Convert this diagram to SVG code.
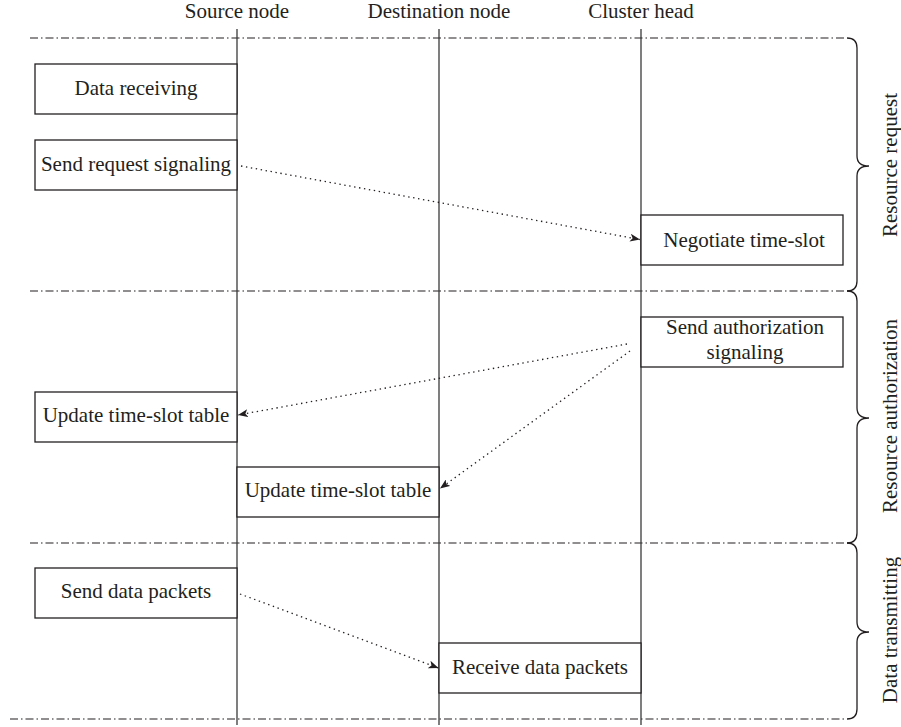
<svg xmlns="http://www.w3.org/2000/svg" width="901" height="727" viewBox="0 0 901 727">
  <style>
    text { font-family: "Liberation Serif", "Times New Roman", serif; font-size: 21px; fill: #231f20; }
    .mid { text-anchor: middle; }
    .lifeline { stroke: #3a3a3a; stroke-width: 1.3; fill: none; }
    .phase { stroke: #231f20; stroke-width: 1.1; fill: none; stroke-dasharray: 8 3 1.5 3; }
    .brace { stroke: #231f20; stroke-width: 1.3; fill: none; }
    .box rect { fill: #ffffff; stroke: #231f20; stroke-width: 1.3; }
    .msg { stroke: #231f20; stroke-width: 1.3; fill: none; stroke-dasharray: 1.4 3.6; marker-end: url(#head); }
  </style>
  <defs>
    <marker id="head" viewBox="0 0 10 8" refX="10" refY="4" markerWidth="10" markerHeight="8" markerUnits="userSpaceOnUse" orient="auto">
      <path d="M0,0 L10,4 L0,8 L2.5,4 Z" fill="#231f20"/>
    </marker>
  </defs>

  <rect width="901" height="727" fill="#ffffff"/>

  <!-- column headers -->
  <g id="headers">
    <text class="mid" x="237" y="18">Source node</text>
    <text class="mid" x="439" y="18">Destination node</text>
    <text class="mid" x="641" y="18">Cluster head</text>
  </g>

  <!-- phase separators -->
  <g id="phases">
    <line class="phase" x1="30" y1="38" x2="847" y2="38"/>
    <line class="phase" x1="30" y1="291" x2="847" y2="291"/>
    <line class="phase" x1="30" y1="543" x2="847" y2="543"/>
    <line class="phase" x1="10" y1="719" x2="847" y2="719"/>
  </g>

  <!-- lifelines -->
  <g id="lifelines">
    <line class="lifeline" x1="237" y1="29" x2="237" y2="725"/>
    <line class="lifeline" x1="439" y1="29" x2="439" y2="725"/>
    <line class="lifeline" x1="641" y1="29" x2="641" y2="725"/>
  </g>

  <!-- phase braces and labels -->
  <g id="phase-request">
    <path class="brace" d="M847,38 Q857,38 857,48 L857,156 Q857,166 869,166 Q857,166 857,176 L857,281 Q857,291 847,291"/>
    <text class="mid" transform="translate(897,165) rotate(-90)">Resource request</text>
  </g>
  <g id="phase-authorization">
    <path class="brace" d="M847,291 Q857,291 857,301 L857,408 Q857,418 869,418 Q857,418 857,428 L857,533 Q857,543 847,543"/>
    <text class="mid" transform="translate(897,416) rotate(-90)">Resource authorization</text>
  </g>
  <g id="phase-transmitting">
    <path class="brace" d="M847,543 Q857,543 857,553 L857,622 Q857,632 869,632 Q857,632 857,642 L857,709 Q857,719 847,719"/>
    <text class="mid" transform="translate(897,630) rotate(-90)">Data transmitting</text>
  </g>

  <!-- process boxes -->
  <g id="data-receiving" class="box">
    <rect x="35" y="64" width="202" height="50"/>
    <text class="mid" x="136" y="95">Data receiving</text>
  </g>
  <g id="send-request" class="box">
    <rect x="35" y="140" width="202" height="50"/>
    <text class="mid" x="136" y="171">Send request signaling</text>
  </g>
  <g id="negotiate" class="box">
    <rect x="641" y="215" width="202" height="50"/>
    <text class="mid" x="744" y="247">Negotiate time-slot</text>
  </g>
  <g id="send-authorization" class="box">
    <rect x="641" y="317" width="202" height="50"/>
    <text class="mid" x="745" y="334">Send authorization</text>
    <text class="mid" x="745" y="359">signaling</text>
  </g>
  <g id="update-source" class="box">
    <rect x="35" y="392" width="202" height="50"/>
    <text class="mid" x="136" y="422">Update time-slot table</text>
  </g>
  <g id="update-destination" class="box">
    <rect x="237" y="467" width="202" height="50"/>
    <text class="mid" x="338" y="497">Update time-slot table</text>
  </g>
  <g id="send-packets" class="box">
    <rect x="35" y="568" width="202" height="50"/>
    <text class="mid" x="136" y="598">Send data packets</text>
  </g>
  <g id="receive-packets" class="box">
    <rect x="439" y="643" width="202" height="50"/>
    <text class="mid" x="540" y="674">Receive data packets</text>
  </g>

  <!-- messages -->
  <g id="connectors">
    <line class="msg" x1="241" y1="166" x2="640" y2="239.5"/>
    <line class="msg" x1="627" y1="344" x2="238" y2="415"/>
    <line class="msg" x1="630" y1="351" x2="440" y2="488.5"/>
    <line class="msg" x1="240" y1="594" x2="438.5" y2="668"/>
  </g>
</svg>
